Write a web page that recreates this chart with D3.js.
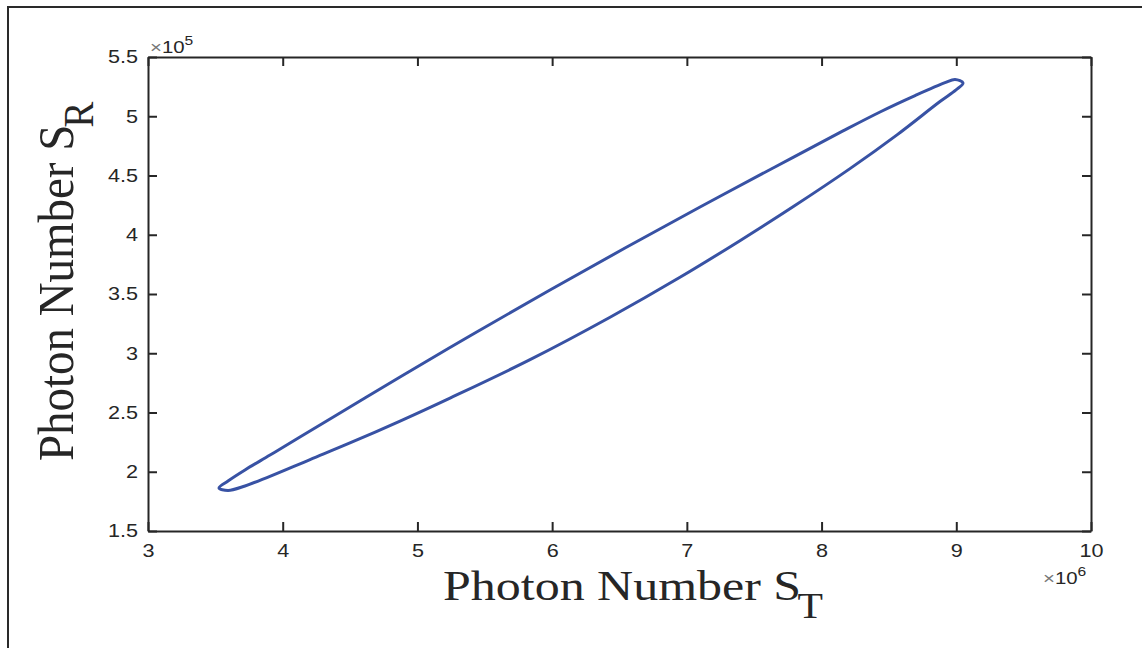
<!DOCTYPE html>
<html>
<head>
<meta charset="utf-8">
<script src="https://cdn.jsdelivr.net/npm/d3@7"></script>
<style>
  body { margin: 0; background: #fff; }
  .tick line, .domain { stroke: #262626; stroke-width: 2; }
</style>
</head>
<body>
<div id="chart"></div>
<script>
// loop, going round from the left tip (x in 1e6, y in 1e5)
// upper branch to the right tip, then lower branch back
var stValues = [3.527, 3.594, 3.720, 3.906, 4.128, 4.499, 4.871, 5.427, 5.984, 6.541, 7.098, 7.654,
                8.159, 8.434, 8.694, 8.916, 8.991, 9.050,
                8.998, 8.879, 8.560, 8.211, 7.788, 7.394, 6.949, 6.430, 5.836, 5.242, 4.871, 4.499,
                4.203, 3.883, 3.720, 3.594];
var srValues = [1.863, 1.922, 2.015, 2.141, 2.293, 2.546, 2.800, 3.171, 3.534, 3.888, 4.234, 4.572,
                4.876, 5.036, 5.174, 5.283, 5.310, 5.281,
                5.222, 5.124, 4.843, 4.558, 4.236, 3.950, 3.641, 3.304, 2.946, 2.622, 2.428, 2.243,
                2.103, 1.951, 1.880, 1.842];
var xTicks = [3, 4, 5, 6, 7, 8, 9, 10];
var yTicks = [1.5, 2, 2.5, 3, 3.5, 4, 4.5, 5, 5.5];

var W = 1142, H = 648;
var plotL = 148, plotT = 57, plotR = 1091, plotB = 531;

var svg = d3.select("#chart").append("svg")
  .attr("width", W)
  .attr("height", H);

// outer frame (only left + top edges inside the picture)
svg.append("rect")
  .attr("x", 8).attr("y", 7)
  .attr("width", 1400).attr("height", 1000)
  .style("fill", "none")
  .style("stroke", "#2a2a2a")
  .style("stroke-width", 2);

var x = d3.scaleLinear().domain([3, 10]).range([plotL, plotR]);
var y = d3.scaleLinear().domain([1.5, 5.5]).range([plotB, plotT]);

// axes, ticks pointing inward
svg.append("g")
  .attr("transform", "translate(0," + plotB + ")")
  .call(d3.axisBottom(x).tickValues(xTicks).tickSize(-9).tickSizeOuter(0).tickPadding(13).tickFormat(d3.format("d")));
svg.append("g")
  .attr("transform", "translate(0," + plotT + ")")
  .call(d3.axisTop(x).tickValues(xTicks).tickSize(-9).tickSizeOuter(0).tickFormat(""));
svg.append("g")
  .attr("transform", "translate(" + plotL + ",0)")
  .call(d3.axisLeft(y).tickValues(yTicks).tickSize(-9).tickSizeOuter(0).tickPadding(8.3).tickFormat(function(d){ return d; }));
svg.append("g")
  .attr("transform", "translate(" + plotR + ",0)")
  .call(d3.axisRight(y).tickValues(yTicks).tickSize(-9).tickSizeOuter(0).tickFormat(""));

// tick labels look a bit wide in the original
svg.selectAll(".tick text")
  .attr("transform", "scale(1.2,1)")
  .style("font-family", "Liberation Sans, Arial, sans-serif")
  .style("font-size", "18px")
  .style("fill", "#262626");

// the loop
var loop = d3.line()
  .x(function(d, i) { return x(stValues[i]); })
  .y(function(d, i) { return y(srValues[i]); })
  .curve(d3.curveCatmullRomClosed.alpha(0.5));

svg.append("path")
  .attr("d", loop(stValues))
  .style("fill", "none")
  .style("stroke", "#3852a4")
  .style("stroke-width", 3)
  .style("stroke-linejoin", "round");

// exponent labels
function expLabel(px, py, pow) {
  var t = svg.append("text")
    .attr("transform", "translate(" + px + "," + py + ") scale(1.2,1)")
    .style("font-family", "Liberation Sans, Arial, sans-serif")
    .style("font-size", "17px")
    .style("fill", "#262626");
  t.append("tspan").text("\u00d7").style("fill", "#777");
  t.append("tspan").text("10");
  t.append("tspan").text(pow).attr("dy", -8).style("font-size", "13px");
}
expLabel(150, 53, "5");
expLabel(1043, 584, "6");

// axis titles
var xl = svg.append("text")
  .attr("transform", "translate(443,600) scale(1.19,1)")
  .style("font-family", "Liberation Serif, Times New Roman, serif")
  .style("font-size", "42px")
  .style("fill", "#262626");
xl.append("tspan").text("Photon Number S");
xl.append("tspan").text("T").attr("dy", 18).attr("dx", -3).style("font-size", "35px");

var yl = svg.append("text")
  .attr("transform", "translate(73,461) rotate(-90) scale(0.92,1)")
  .style("font-family", "Liberation Serif, Times New Roman, serif")
  .style("font-size", "51px")
  .style("fill", "#262626");
yl.append("tspan").text("Photon Number S");
yl.append("tspan").text("R").attr("dy", 20).attr("dx", -3).style("font-size", "42px");
</script>
</body>
</html>
